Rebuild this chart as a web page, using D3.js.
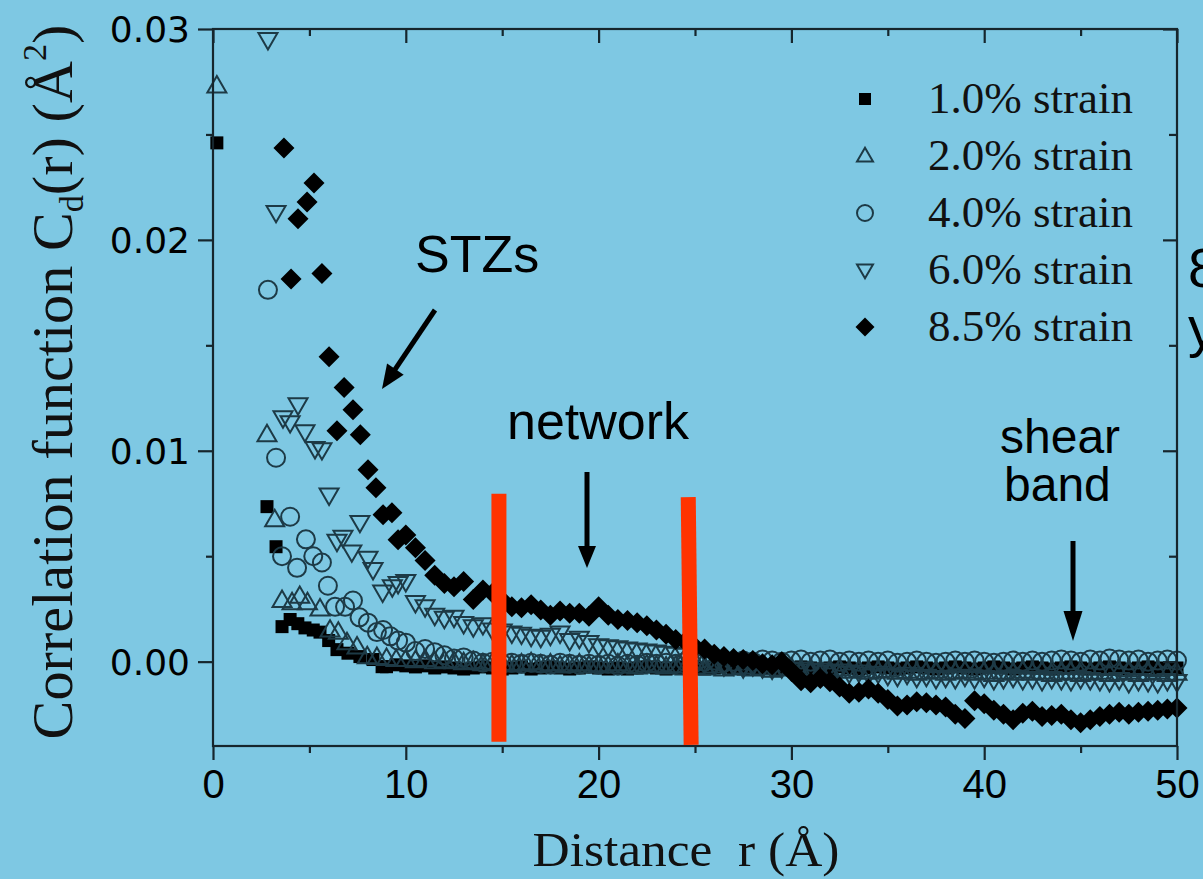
<!DOCTYPE html>
<html>
<head>
<meta charset="utf-8">
<script src="https://cdn.jsdelivr.net/npm/d3@7/dist/d3.min.js"></script>
<style>
  html, body { margin: 0; padding: 0; background: #7ec8e3; overflow: hidden; }
  svg { display: block; }
</style>
</head>
<body>
<svg id="chart" width="1203" height="879"></svg>
<script>
// Correlation function C_d(r), values in units of 1e-3 Å^2, r in Å.

// Axis ticks
const xMajorTicks = [0, 10, 20, 30, 40, 50];
const xMinorTicks = [5, 15, 25, 35, 45];
const yMajorTicks = [0, 10, 20, 30];
const yMinorTicks = [5, 15, 25];
const yTickLabels = ["0.00", "0.01", "0.02", "0.03"];

// Legend entries
const seriesNames = ["1.0% strain", "2.0% strain", "4.0% strain", "6.0% strain", "8.5% strain"];

// Short-range points (irregular r)
const s10_r = [0.2, 2.8, 3.27, 3.58, 4.0, 4.4, 4.77, 5.2, 5.55, 6.0, 6.43, 7.0, 7.62, 8.3, 8.77, 9.0, 9.5];
const s10_c = [24.6, 7.35, 5.45, 1.66, 2.0, 1.8, 1.6, 1.5, 1.4, 1.0, 0.57, 0.4, 0.24, 0.1, -0.24, -0.24, -0.15];

const s20_r = [0.2, 2.8, 3.2, 3.58, 4.1, 4.5, 4.9, 5.55, 6.07, 6.5, 6.95, 7.47, 8.0, 8.5, 9.0, 9.5];
const s20_c = [27.3, 10.76, 6.73, 2.9, 2.8, 3.1, 2.8, 2.5, 1.5, 1.4, 0.9, 0.7, 0.24, 0.2, 0.15, 0.1];

const s40_r = [2.85, 3.27, 3.58, 4.0, 4.36, 4.82, 5.2, 5.65, 5.96, 6.33, 6.85, 7.26, 7.6, 8.04, 8.5, 8.82, 9.2, 9.6];
const s40_c = [17.63, 9.67, 5.0, 6.87, 4.45, 5.8, 5.0, 4.7, 3.6, 2.6, 2.6, 2.9, 2.1, 1.85, 1.4, 1.5, 1.2, 1.0];

const s60_r = [2.85, 3.27, 3.63, 4.0, 4.41, 4.77, 5.29, 5.65, 6.02, 6.43, 6.74, 7.2, 7.62, 8.04, 8.3, 8.8, 9.3, 9.6];
const s60_c = [29.5, 21.3, 11.56, 11.33, 12.18, 10.9, 10.1, 10.05, 7.9, 5.7, 5.9, 5.2, 6.6, 4.9, 4.36, 3.3, 3.55, 3.7];

const s85_r = [3.68, 4.05, 4.41, 4.88, 5.24, 5.65, 6.02, 6.43, 6.8, 7.26, 7.64, 8.04, 8.45, 8.82, 9.28, 9.6];
const s85_c = [24.36, 18.15, 21.0, 21.8, 22.7, 18.4, 14.46, 10.95, 13.0, 11.94, 10.76, 9.1, 8.25, 6.97, 7.06, 5.78];

// Long-range points on a common 0.5 Å grid
const rGrid = [10, 10.5, 11, 11.5, 12, 12.5, 13, 13.5, 14, 14.5, 15, 15.5, 16, 16.5, 17, 17.5, 18, 18.5, 19, 19.5,
  20, 20.5, 21, 21.5, 22, 22.5, 23, 23.5, 24, 24.5, 25, 25.5, 26, 26.5, 27, 27.5, 28, 28.5, 29, 29.5,
  30, 30.5, 31, 31.5, 32, 32.5, 33, 33.5, 34, 34.5, 35, 35.5, 36, 36.5, 37, 37.5, 38, 38.5, 39, 39.5,
  40, 40.5, 41, 41.5, 42, 42.5, 43, 43.5, 44, 44.5, 45, 45.5, 46, 46.5, 47, 47.5, 48, 48.5, 49, 49.5, 50];

const s10_grid = [-0.2, -0.25, -0.2, -0.3, -0.25, -0.3, -0.35, -0.3, -0.25, -0.3, -0.35, -0.3, -0.25, -0.35, -0.3, -0.25, -0.3, -0.35, -0.3, -0.25,
  -0.3, -0.35, -0.3, -0.35, -0.3, -0.25, -0.3, -0.35, -0.3, -0.25, -0.3, -0.35, -0.3, -0.25, -0.3, -0.35, -0.3, -0.25, -0.3, -0.35,
  -0.3, -0.25, -0.3, -0.35, -0.3, -0.25, -0.3, -0.35, -0.3, -0.25, -0.3, -0.35, -0.3, -0.25, -0.3, -0.35, -0.3, -0.25, -0.3, -0.35,
  -0.3, -0.25, -0.3, -0.35, -0.3, -0.25, -0.3, -0.35, -0.3, -0.25, -0.3, -0.35, -0.3, -0.25, -0.3, -0.35, -0.3, -0.25, -0.3, -0.35, -0.3];

const s20_grid = [0.1, 0.05, 0.1, 0.0, 0.05, 0.0, -0.05, 0.0, -0.1, -0.05, -0.1, -0.15, -0.1, -0.05, -0.15, -0.1, -0.2, -0.15, -0.1, -0.2,
  -0.15, -0.2, -0.1, -0.2, -0.25, -0.15, -0.2, -0.25, -0.2, -0.3, -0.25, -0.3, -0.2, -0.35, -0.3, -0.25, -0.35, -0.3, -0.4, -0.35,
  -0.3, -0.4, -0.35, -0.45, -0.4, -0.35, -0.45, -0.4, -0.5, -0.45, -0.4, -0.5, -0.45, -0.55, -0.5, -0.45, -0.55, -0.5, -0.45, -0.55,
  -0.5, -0.6, -0.5, -0.55, -0.45, -0.55, -0.5, -0.6, -0.55, -0.5, -0.6, -0.55, -0.5, -0.6, -0.55, -0.5, -0.6, -0.55, -0.5, -0.6, -0.55];

const s40_grid = [0.9, 0.5, 0.6, 0.45, 0.3, 0.15, 0.2, 0.05, -0.05, 0.0, -0.1, -0.05, -0.1, -0.05, -0.1, -0.15, -0.05, -0.1, -0.15, -0.1,
  -0.15, -0.1, -0.2, -0.1, -0.15, -0.05, -0.1, -0.05, -0.1, 0.0, -0.05, 0.0, 0.05, -0.05, 0.0, 0.05, 0.0, 0.1, 0.05, 0.0,
  0.05, 0.1, 0.0, 0.05, 0.1, 0.0, 0.05, 0.0, 0.05, 0.0, 0.05, -0.05, 0.0, 0.05, 0.0, -0.05, 0.0, 0.05, 0.0, 0.05,
  0.0, -0.05, 0.0, 0.05, 0.0, 0.05, 0.0, 0.05, 0.1, 0.05, 0.0, 0.1, 0.05, 0.15, 0.1, 0.05, 0.1, 0.0, 0.05, 0.1, 0.05];

const s60_grid = [3.8, 2.8, 2.6, 2.2, 2.05, 2.1, 1.8, 1.65, 1.75, 1.5, 1.45, 1.35, 1.3, 1.2, 1.15, 1.25, 1.35, 1.0, 1.1, 0.9,
  0.75, 0.7, 0.65, 0.6, 0.55, 0.5, 0.45, 0.4, 0.35, 0.3, 0.2, 0.15, -0.1, -0.2, -0.15, -0.3, -0.2, -0.3, -0.35, -0.3,
  -0.4, -0.35, -0.45, -0.4, -0.5, -0.45, -0.55, -0.5, -0.6, -0.55, -0.65, -0.7, -0.6, -0.75, -0.7, -0.8, -0.75, -0.8, -0.7, -0.8,
  -0.75, -0.85, -0.8, -0.75, -0.85, -0.8, -0.9, -0.8, -0.85, -0.9, -0.8, -0.85, -0.9, -0.95, -0.85, -1.0, -0.9, -0.95, -1.0, -0.9, -0.95];

const s85_grid = [6.0, 5.4, 4.8, 4.1, 3.7, 3.55, 3.8, 2.95, 3.4, 3.25, 2.9, 2.6, 2.55, 2.7, 2.45, 2.2, 2.4, 2.3, 2.3, 2.15,
  2.6, 2.2, 2.0, 1.95, 1.85, 1.7, 1.5, 1.3, 1.05, 0.95, 0.7, 0.6, 0.35, 0.25, 0.15, 0.1, 0.05, -0.1, -0.15, 0.0,
  -0.45, -0.9, -1.0, -0.8, -0.95, -1.2, -1.5, -1.45, -1.3, -1.5, -1.8, -2.1, -2.05, -1.9, -1.95, -2.05, -2.15, -2.5, -2.7, -1.85,
  -2.0, -2.3, -2.5, -2.75, -2.45, -2.35, -2.6, -2.55, -2.5, -2.75, -2.9, -2.75, -2.6, -2.5, -2.4, -2.5, -2.4, -2.35, -2.3, -2.25, -2.2];

// Marked window of the "network" regime (r in Å, C in 1e-3 Å^2)
const windowBars = [
  { rTop: 14.83, rBot: 14.83, cTop: 7.96, cBot: -3.8 },
  { rTop: 24.65, rBot: 24.8, cTop: 7.8, cBot: -3.95 }
];

// ---------------------------------------------------------------
const svg = d3.select("#chart");
const W = 1203, H = 879;
const plot = { left: 213, right: 1177, top: 29, bottom: 746 };

const x = d3.scaleLinear().domain([0, 50]).range([plot.left, plot.right]);
const y = d3.scaleLinear().domain([-4, 30]).range([plot.bottom, plot.top]);

const BG = "#7ec8e3";
const AXIS = "#16262d";
const OPEN = "#1d3a46";

svg.append("rect").attr("width", W).attr("height", H).attr("fill", BG);

// Build series
function zipSeries(rs, cs) { return rs.map((r, i) => ({ r, c: cs[i] })); }
const series = [
  { name: seriesNames[0], shape: "square",  filled: true,  pts: zipSeries(s10_r, s10_c).concat(zipSeries(rGrid, s10_grid)) },
  { name: seriesNames[1], shape: "triUp",   filled: false, pts: zipSeries(s20_r, s20_c).concat(zipSeries(rGrid, s20_grid)) },
  { name: seriesNames[2], shape: "circle",  filled: false, pts: zipSeries(s40_r, s40_c).concat(zipSeries(rGrid, s40_grid)) },
  { name: seriesNames[3], shape: "triDown", filled: false, pts: zipSeries(s60_r, s60_c).concat(zipSeries(rGrid, s60_grid)) },
  { name: seriesNames[4], shape: "diamond", filled: true,  pts: zipSeries(s85_r, s85_c).concat(zipSeries(rGrid, s85_grid)) }
];

function shapePath(shape, s) {
  const h = s * 0.866;
  switch (shape) {
    case "square":  return `M${-s/2},${-s/2}h${s}v${s}h${-s}Z`;
    case "triUp":   return `M0,${-h*0.6}L${s/2},${h*0.4}L${-s/2},${h*0.4}Z`;
    case "triDown": return `M0,${h*0.6}L${s/2},${-h*0.4}L${-s/2},${-h*0.4}Z`;
    case "diamond": return `M0,${-s/2}L${s/2},0L0,${s/2}L${-s/2},0Z`;
    case "circle":  { const r = s/2; return `M${r},0A${r},${r} 0 1,1 ${-r},0A${r},${r} 0 1,1 ${r},0Z`; }
  }
}
const plotSize = { square: 13, triUp: 19, circle: 18, triDown: 19, diamond: 21 };
const legendSize = { square: 12, triUp: 16, circle: 16, triDown: 16, diamond: 19 };

function styleMarker(sel, d) {
  if (d.filled) sel.attr("fill", "#000").attr("stroke", "none");
  else sel.attr("fill", "none").attr("stroke", OPEN).attr("stroke-width", 2);
}

// Data markers
const gData = svg.append("g");
series.forEach(sr => {
  gData.append("g").selectAll("path").data(sr.pts).join("path")
    .attr("d", shapePath(sr.shape, plotSize[sr.shape]))
    .attr("transform", p => `translate(${x(p.r)},${y(p.c)})`)
    .call(sel => styleMarker(sel, sr));
});

// Axes
function drawAxis(gen, tx, ty, values, size, labels) {
  const g = svg.append("g").attr("transform", `translate(${tx},${ty})`)
    .call(gen.tickValues(values).tickSize(size).tickSizeOuter(0).tickFormat(labels ? (d, i) => labels[i] : ""));
  g.select(".domain").remove();
  g.selectAll(".tick line").attr("stroke", AXIS).attr("stroke-width", 2.2);
  return g;
}
// bottom (outward)
const gxb = drawAxis(d3.axisBottom(x), 0, plot.bottom, xMajorTicks, 14, xMajorTicks.map(String));
gxb.selectAll(".tick text").attr("font-family", "Liberation Sans, Arial, sans-serif").attr("font-size", 40)
  .attr("fill", "#000").attr("y", 24).attr("dy", "0.71em");
drawAxis(d3.axisBottom(x), 0, plot.bottom, xMinorTicks, 7, null);
// top (inward)
drawAxis(d3.axisBottom(x), 0, plot.top, xMajorTicks, 14, null);
drawAxis(d3.axisBottom(x), 0, plot.top, xMinorTicks, 7, null);
// left (outward)
const gyl = drawAxis(d3.axisLeft(y), plot.left, 0, yMajorTicks, 15, yTickLabels);
gyl.selectAll(".tick text").attr("font-family", "DejaVu Sans, sans-serif").attr("font-size", 36)
  .attr("fill", "#000").attr("x", -23).attr("dy", "0.36em");
drawAxis(d3.axisLeft(y), plot.left, 0, yMinorTicks, 7, null);
// right (inward)
drawAxis(d3.axisLeft(y), plot.right, 0, yMajorTicks, 14, null);
drawAxis(d3.axisLeft(y), plot.right, 0, yMinorTicks, 8, null);

// Frame
svg.append("rect")
  .attr("x", plot.left).attr("y", plot.top)
  .attr("width", plot.right - plot.left).attr("height", plot.bottom - plot.top)
  .attr("fill", "none").attr("stroke", AXIS).attr("stroke-width", 2.2);

// Network window bars
svg.append("g").selectAll("line").data(windowBars).join("line")
  .attr("x1", d => x(d.rTop)).attr("y1", d => y(d.cTop))
  .attr("x2", d => x(d.rBot)).attr("y2", d => y(d.cBot))
  .attr("stroke", "#ff3300").attr("stroke-width", 15);

// Legend
const legend = svg.append("g");
series.forEach((sr, i) => {
  const cy = 99 + i * 57;
  legend.append("path")
    .attr("d", shapePath(sr.shape, legendSize[sr.shape]))
    .attr("transform", `translate(865,${cy})`)
    .call(sel => styleMarker(sel, sr));
  legend.append("text").attr("x", 928).attr("y", cy + 14)
    .attr("font-family", "Liberation Serif, Times New Roman, serif").attr("font-size", 45)
    .attr("fill", "#111").text(sr.name);
});

// Axis titles
const xt = svg.append("text")
  .attr("font-family", "Liberation Serif, Times New Roman, serif").attr("font-size", 48)
  .attr("fill", "#111").attr("text-anchor", "middle")
  .attr("transform", "translate(686,866)")
  .text("Distance\u00a0\u00a0r (Å)");
{
  const len = xt.node().getComputedTextLength();
  xt.attr("transform", `translate(686,866) scale(${307 / len},1)`);
}

const yt = svg.append("text")
  .attr("font-family", "Liberation Serif, Times New Roman, serif").attr("font-size", 58)
  .attr("fill", "#111").attr("text-anchor", "middle");
yt.append("tspan").text("Correlation function C");
yt.append("tspan").attr("font-size", 34).attr("dy", 11).text("d");
yt.append("tspan").attr("dy", -11).text("(r) (Å");
yt.append("tspan").attr("font-size", 34).attr("dy", -26).text("2");
yt.append("tspan").attr("dy", 26).text(")");
{
  const len = yt.node().getComputedTextLength();
  yt.attr("transform", `translate(72,382) rotate(-90) scale(${715 / len},1)`);
}

// Annotations
const ann = svg.append("g");
function addText(t, px, py, size) {
  ann.append("text").attr("x", px).attr("y", py)
    .attr("font-family", "Liberation Sans, Arial, Helvetica, sans-serif")
    .attr("font-size", size).attr("fill", "#000").text(t);
}
addText("STZs", 415, 272, 52);
addText("network", 507, 439, 52);
addText("shear", 1000, 453, 48);
addText("band", 1004, 501, 48);
addText("8", 1188, 287, 56);
addText("y", 1188, 346, 56);

function arrow(x1, y1, x2, y2, headLen, headW) {
  const dx = x2 - x1, dy = y2 - y1, L = Math.hypot(dx, dy);
  const ux = dx / L, uy = dy / L;
  const bx = x2 - ux * headLen, by = y2 - uy * headLen;
  ann.append("line").attr("x1", x1).attr("y1", y1).attr("x2", bx + ux * 2).attr("y2", by + uy * 2)
    .attr("stroke", "#000").attr("stroke-width", 5);
  ann.append("path")
    .attr("d", `M${x2},${y2}L${bx - uy * headW / 2},${by + ux * headW / 2}L${bx + uy * headW / 2},${by - ux * headW / 2}Z`)
    .attr("fill", "#000");
}
arrow(435, 310, 382, 389, 24, 20);
arrow(587, 472, 587, 568, 22, 18);
arrow(1073, 541, 1073, 641, 30, 19);
</script>
</body>
</html>
